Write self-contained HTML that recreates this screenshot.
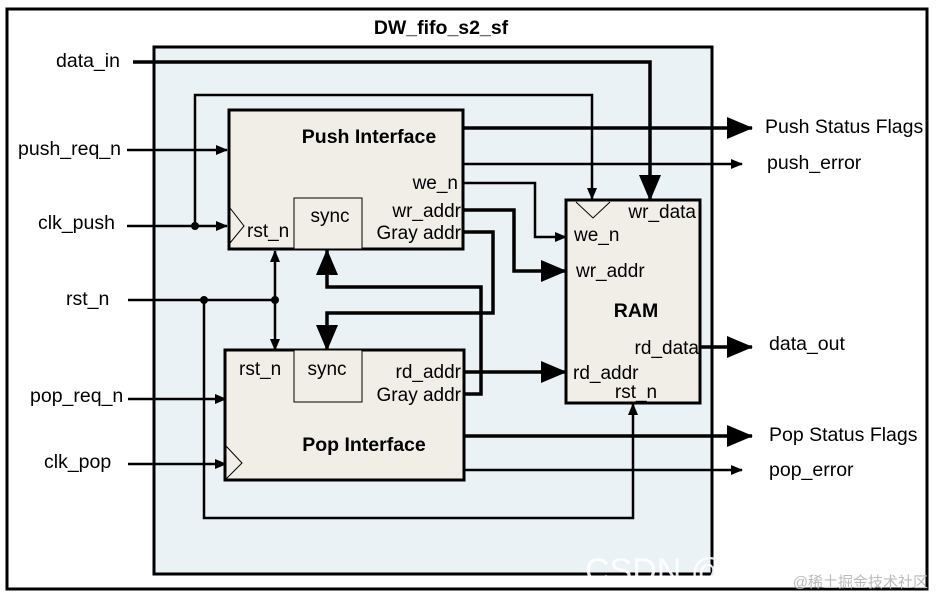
<!DOCTYPE html>
<html><head><meta charset="utf-8"><style>
html,body{margin:0;padding:0;background:#fff}
svg{display:block}
text{font-family:"Liberation Sans","Noto Sans CJK SC",sans-serif;fill:#000}
</style></head><body>
<svg width="938" height="599" viewBox="0 0 938 599" xmlns="http://www.w3.org/2000/svg">
<defs>
<marker id="sa" markerWidth="12" markerHeight="10" refX="11" refY="5" orient="auto" markerUnits="userSpaceOnUse"><path d="M0,0 L12,5 L0,10 Z" fill="#000"/></marker>
<marker id="ba" markerWidth="26" markerHeight="22" refX="25" refY="11" orient="auto" markerUnits="userSpaceOnUse"><path d="M0,0 L26,11 L0,22 Z" fill="#000"/></marker>
</defs>
<rect x="7" y="9" width="920" height="580" fill="#fff" stroke="#000" stroke-width="3"/>
<rect x="154" y="47" width="558" height="527" fill="#eaf2f6" stroke="#000" stroke-width="3"/>
<text x="441" y="34" font-size="19.5" font-weight="bold" text-anchor="middle">DW_fifo_s2_sf</text>

<g fill="none" stroke="#000">
<polyline points="133,62 650,62 650,200" stroke-width="3.5" marker-end="url(#ba)"/>
<polyline points="195,226 195,95 592,95 592,199" stroke-width="2.5" marker-end="url(#sa)"/>
<line x1="127" y1="150" x2="227" y2="150" stroke-width="2.5" marker-end="url(#sa)"/>
<line x1="127" y1="226" x2="227" y2="226" stroke-width="2.5" marker-end="url(#sa)"/>
<line x1="463" y1="128" x2="752" y2="128" stroke-width="3.5" marker-end="url(#ba)"/>
<line x1="463" y1="164" x2="742" y2="164" stroke-width="2.5" marker-end="url(#sa)"/>
<polyline points="463,183 535,183 535,237 566,237" stroke-width="2.5" marker-end="url(#sa)"/>
<polyline points="463,210 514,210 514,271 566,271" stroke-width="3.5" marker-end="url(#ba)"/>
<polyline points="463,232 493,232 493,313 327,313 327,350" stroke-width="3.5" marker-end="url(#ba)"/>
<polyline points="464,394 481,394 481,287 327,287 327,250" stroke-width="3.5" marker-end="url(#ba)"/>
<line x1="128" y1="300" x2="275" y2="300" stroke-width="2.5"/>
<line x1="275" y1="300" x2="275" y2="251" stroke-width="2.5" marker-end="url(#sa)"/>
<line x1="275" y1="300" x2="275" y2="350" stroke-width="2.5" marker-end="url(#sa)"/>
<polyline points="204,300 204,518 633,518 633,404" stroke-width="2.5" marker-end="url(#sa)"/>
<line x1="128" y1="399" x2="226" y2="399" stroke-width="2.5" marker-end="url(#sa)"/>
<line x1="128" y1="464" x2="226" y2="464" stroke-width="2.5" marker-end="url(#sa)"/>
<line x1="464" y1="372" x2="566" y2="372" stroke-width="3.5" marker-end="url(#ba)"/>
<line x1="464" y1="436" x2="752" y2="436" stroke-width="3.5" marker-end="url(#ba)"/>
<line x1="464" y1="470" x2="742" y2="470" stroke-width="2.5" marker-end="url(#sa)"/>
<line x1="700" y1="347" x2="752" y2="347" stroke-width="3.5" marker-end="url(#ba)"/>
</g>
<g fill="#000"><circle cx="195" cy="226" r="4"/><circle cx="204" cy="300" r="4"/><circle cx="275" cy="300" r="4"/></g>

<rect x="229" y="110" width="234" height="139" fill="#f1eee8" stroke="#000" stroke-width="3"/>
<rect x="294" y="198" width="68" height="51" fill="#f1eee8" stroke="#000" stroke-width="1"/>
<polyline points="230,208 244,226 230,243" fill="none" stroke="#000" stroke-width="1"/>
<text x="369" y="143" font-size="19.5" font-weight="bold" text-anchor="middle">Push Interface</text>
<text x="458" y="189" font-size="19" text-anchor="end">we_n</text>
<text x="461" y="217" font-size="19" text-anchor="end">wr_addr</text>
<text x="461" y="239" font-size="19" text-anchor="end">Gray addr</text>
<text x="247" y="237" font-size="19">rst_n</text>
<text x="330" y="222" font-size="19" text-anchor="middle">sync</text>

<rect x="225" y="350" width="239" height="130" fill="#f1eee8" stroke="#000" stroke-width="3"/>
<rect x="294" y="350" width="68" height="52" fill="#f1eee8" stroke="#000" stroke-width="1"/>
<polyline points="226,446 242,463 226,479" fill="none" stroke="#000" stroke-width="1"/>
<text x="364" y="451" font-size="19.5" font-weight="bold" text-anchor="middle">Pop Interface</text>
<text x="239" y="375" font-size="19">rst_n</text>
<text x="327" y="375" font-size="19" text-anchor="middle">sync</text>
<text x="461" y="378" font-size="19" text-anchor="end">rd_addr</text>
<text x="461" y="401" font-size="19" text-anchor="end">Gray addr</text>

<rect x="566" y="200" width="134" height="203" fill="#f1eee8" stroke="#000" stroke-width="3"/>
<polyline points="576,202 593,218 610,202" fill="none" stroke="#000" stroke-width="1"/>
<text x="696" y="218" font-size="19" text-anchor="end">wr_data</text>
<text x="574" y="241" font-size="19">we_n</text>
<text x="576" y="277" font-size="19">wr_addr</text>
<text x="636" y="317" font-size="19.5" font-weight="bold" text-anchor="middle">RAM</text>
<text x="699" y="354" font-size="19" text-anchor="end">rd_data</text>
<text x="573" y="379" font-size="19">rd_addr</text>
<text x="636" y="398" font-size="19" text-anchor="middle">rst_n</text>

<g font-size="19.5">
<text x="56" y="67">data_in</text>
<text x="18" y="155">push_req_n</text>
<text x="38" y="229">clk_push</text>
<text x="66" y="305">rst_n</text>
<text x="30" y="402">pop_req_n</text>
<text x="44" y="468">clk_pop</text>
<text x="765" y="133">Push Status Flags</text>
<text x="767" y="169">push_error</text>
<text x="769" y="350">data_out</text>
<text x="769" y="441">Pop Status Flags</text>
<text x="769" y="476">pop_error</text>
</g>
<text x="585" y="582" font-size="34" style="fill:#fff;opacity:0.9">CSDN @</text>
<text x="928" y="587" font-size="15" text-anchor="end" style="fill:#bbb">@稀土掘金技术社区</text>
</svg>
</body></html>
